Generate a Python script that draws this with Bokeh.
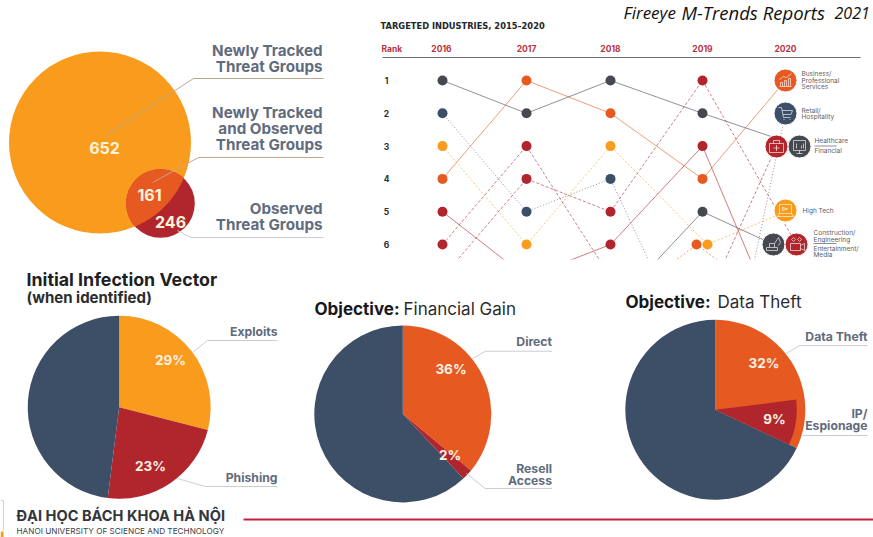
import numpy as np
from bokeh.core.properties import value
from bokeh.embed import file_html
from bokeh.models import Range1d
from bokeh.plotting import figure
from bokeh.resources import INLINE

W, H = 873, 537
AMBER, ORANGE, RED, NAVY, GRAY = "#F99B1C", "#E65A22", "#B0262C", "#3D4E67", "#45484F"
SLATE, RULE, CRIMSON = "#616B7E", "#C9CED6", "#B8323F"
FONT = "Inter"

# Threat-group overlap labels
venn_counts = ["652", "161", "246"]
venn_labels = [["Newly Tracked", "Threat Groups"],
               ["Newly Tracked", "and Observed", "Threat Groups"],
               ["Observed", "Threat Groups"]]

# Targeted industries: rank per year; NaN marks a year without a plotted rank
years = [2016, 2017, 2018, 2019, 2020]
ranks_shown = [1, 2, 3, 4, 5, 6]
N = float("nan")
financial = [1, 2, 1, 2, 3]
business = [4, 1, 2, 4, 1]
retail_early = [2, 5, 4, 10, N]
retail_late = [N, N, N, 14, 2]
high_tech = [3, 6, 3, 6, 5]
healthcare = [6, 3, 7, 8, 3]
education = [5, 7, 6, 3, 9]
entertainment = [7, 4, 5, 1, 6]
construction = [N, N, 8, 5, 6]
government = [N, N, 8, 6, 8]

# Pie shares, clockwise from twelve o'clock, in percent
vector_shares = [29, 23, 48]
financial_shares = [36, 2, 62]
theft_shares = [32, 68]
espionage_share = 9

p = figure(width=W, height=H, x_range=Range1d(0, W), y_range=Range1d(0, H),
           min_border=0, toolbar_location=None, output_backend="svg",
           x_axis_type=None, y_axis_type=None, outline_line_color=None)
p.grid.visible = False
p.extra_y_ranges = {"rank": Range1d(1 + (H - 80) / 32.8, 1 - 80 / 32.8)}


def Y(y):
    return H - np.asarray(y, dtype=float)


def label(x, y, s, size, color=SLATE, style="bold", align="left", font=FONT, alpha=1.0):
    p.text([x], [Y(y)], text=[s], text_font=value(font), text_font_size=f"{size}px",
           text_font_style=style, text_color=color, text_align=align,
           text_baseline="middle", text_alpha=alpha)


def leader(points, color=RULE, alpha=1.0, width=1.0):
    xs, ys = zip(*points)
    p.line(list(xs), Y(ys), line_color=color, line_width=width, line_alpha=alpha)


# ---- overlap diagram ----
big = (99.5, 142.0, 91.0)
small = (160.0, 203.0, 34.3)
p.circle([big[0]], [Y(big[1])], radius=big[2], fill_color=AMBER, line_color=None)
p.circle([small[0]], [Y(small[1])], radius=small[2], fill_color=RED, line_color=None)


def ring(c):
    t = np.linspace(0, 2 * np.pi, 721)
    return c[0] + c[2] * np.cos(t), c[1] + c[2] * np.sin(t)


ax, ay = ring(small)
bx, by = ring(big)
keep_a = np.hypot(ax - big[0], ay - big[1]) <= big[2]
keep_b = np.hypot(bx - small[0], by - small[1]) <= small[2]
lx = np.r_[ax[keep_a], bx[keep_b]]
ly = np.r_[ay[keep_a], by[keep_b]]
order = np.argsort(np.arctan2(ly - ly.mean(), lx - lx.mean()))
p.patch(lx[order], Y(ly[order]), fill_color=ORANGE, line_color=None)

leader([(105, 135), (193, 78), (323, 78)], color="#B9A78C")
leader([(152, 182), (198, 157), (323, 157)], color="#C4A58A")
leader([(177, 230), (190, 237), (323, 237)])
for (x, y), s in zip([(104, 147), (149, 194), (170, 221)], venn_counts):
    label(x, y, s, 16, color="#FFF3DC", align="center")
for ys, lines in zip([(50, 66), (112, 128, 144), (208, 224)], venn_labels):
    for y, s in zip(ys, lines):
        label(322, y - 0.5, s, 15.2, align="right")

# ---- industry ranking slopes ----
column_x = [442, 526, 610, 702, 785]
series = [
    (financial, GRAY, "solid", {4: 799}),
    (business, ORANGE, "solid", {}),
    (retail_early, NAVY, "1 2", {}),
    (retail_late, NAVY, "1 2", {}),
    (high_tech, AMBER, "2 2", {3: 707}),
    (healthcare, RED, "3 2", {4: 776}),
    (education, RED, "solid", {}),
    (entertainment, RED, "3 2", {4: 796}),
    (construction, GRAY, "solid", {4: 773}),
    (government, ORANGE, "2 2", {3: 696}),
]
for ranks, color, dash, nudges in series:
    xs = [nudges.get(i, x) for i, x in enumerate(column_x)]
    p.line(xs, ranks, y_range_name="rank", line_color=color, line_dash=dash,
           line_width=1.0, line_alpha=0.6)
for ranks, color, dash, nudges in series:
    xs = [nudges.get(i, x) for i, x in enumerate(column_x)]
    p.scatter(xs[:4], ranks[:4], y_range_name="rank", size=10, fill_color=color, line_color=None)

# the chart is cropped just under rank 6
p.quad(left=[370], right=[W], bottom=[0], top=[Y(259)], fill_color="white", line_color=None)

label(380, 25, "TARGETED INDUSTRIES, 2015\u20132020", 8.3, color="#23262B", style="bold", font="DejaVu Sans")
label(623, 12, "Fireeye", 17, color="#111111", style="italic", font="Open Sans")
label(681, 12, "M-Trends Reports", 18.5, color="#111111", style="italic", font="Open Sans")
label(834, 12, "2021", 16, color="#111111", style="italic", font="Open Sans")
label(381, 48, "Rank", 8.5, color=CRIMSON)
for x, yr in zip([441, 526, 610, 702, 785], years):
    label(x, 48, str(yr), 8.5, color=CRIMSON, align="center")
leader([(382, 57), (860, 57)], color="#6B6E73")
for r in ranks_shown:
    p.text([386], [r], y_range_name="rank", text=[str(r)], text_font=value(FONT), text_font_size="8.5px",
           text_font_style="bold", text_color="#2B2E33", text_align="center", text_baseline="middle")

# industry badges for the latest year, with small pictograms drawn in white
badges = [
    (785, 80, ORANGE, "bars"), (785, 113, NAVY, "cart"), (799, 146, GRAY, "screen"),
    (776, 146, RED, "case"), (785, 210, AMBER, "laptop"), (773, 244, GRAY, "crane"),
    (796, 244, RED, "camera"),
]
pictograms = {
    "bars": [[(-6, 6), (6, 6)], [(-5, 6), (-5, 2), (-3, 2), (-3, 6)], [(-1, 6), (-1, 0), (1, 0), (1, 6)],
             [(3, 6), (3, -2), (5, -2), (5, 6)], [(-6, -1), (-2, -4), (1, -3), (6, -7)]],
    "cart": [[(-7, -6), (-4, -6), (-2, 4), (5, 4)], [(-3.5, -3), (7, -3), (5.5, 1), (-2.5, 1)],
             [(-2, 6), (-1, 6)], [(4, 6), (5, 6)]],
    "screen": [[(-6, -6), (6, -6), (6, 4), (-6, 4), (-6, -6)], [(-3, 7), (3, 7)], [(0, 4), (0, 7)],
               [(-3, 2), (-3, -3)], [(2, 2), (2, -1)], [(4, 2), (4, -3)]],
    "case": [[(-7, -3), (7, -3), (7, 6), (-7, 6), (-7, -3)], [(-3, -3), (-3, -6), (3, -6), (3, -3)],
             [(-3, 1.5), (3, 1.5)], [(0, -1.5), (0, 4.5)]],
    "laptop": [[(-6, -6), (6, -6), (6, 3), (-6, 3), (-6, -6)], [(-8, 6), (8, 6)], [(-8, 6), (-6, 3)],
               [(8, 6), (6, 3)], [(-3, -3), (2, -1.5), (-3, 0), (-3, -3)]],
    "crane": [[(-7, 6), (4, 6), (4, 3), (-7, 3), (-7, 6)], [(-4, 3), (-4, -1), (1, -1), (1, 3)],
              [(1, -1), (5, -7), (7, -2)], [(7, -2), (5, 1)]],
    "camera": [[(-6, -1), (4, -1), (4, 6), (-6, 6), (-6, -1)], [(4, 1), (8, -1), (8, 6), (4, 4)],
               [(-5, -5), (-3, -7), (-1, -5), (-3, -3), (-5, -5)], [(1, -5), (3, -7), (5, -5), (3, -3), (1, -5)]],
}
for x, y, color, kind in badges:
    p.scatter([x], [Y(y)], size=23, fill_color=color, line_color="white", line_width=1)
    segs = pictograms[kind]
    p.multi_line([[x + a for a, _ in s] for s in segs], [list(Y([y + b for _, b in s])) for s in segs],
                 line_color="white", line_width=0.7, line_alpha=0.9)

tag = "#5B5E66"
for y, s in zip((73, 80, 86), ("Business/", "Professional", "Services")):
    label(801, y, s, 6.5, color=tag, style="normal")
for y, s in zip((110, 116), ("Retail/", "Hospitality")):
    label(801, y, s, 6.5, color=tag, style="normal")
label(814, 140, "Healthcare", 6.5, color=tag, style="normal")
label(814, 150, "Financial", 6.5, color=tag, style="normal")
leader([(814, 145.5), (836, 145.5)], color="#8A8D93")
label(802, 210, "High Tech", 6.5, color=tag, style="normal")
for y, s in zip((232, 239), ("Construction/", "Engineering")):
    label(813, y, s, 6.5, color=tag, style="normal")
leader([(813, 243), (836, 243)], color="#8A8D93")
for y, s in zip((248, 254), ("Entertainment/", "Media")):
    label(813, y, s, 6.5, color=tag, style="normal")


# ---- pies ----
def pie(cx, cy, r, shares, colors):
    edges = np.cumsum([0] + list(shares)) / 100 * 2 * np.pi
    p.wedge([cx] * len(shares), [Y(cy)] * len(shares), radius=r,
            start_angle=list(np.pi / 2 - edges[:-1]), end_angle=list(np.pi / 2 - edges[1:]),
            direction="clock", fill_color=colors, line_color=None)


pie(118.7, 406.7, 91.5, vector_shares, [AMBER, RED, NAVY])
pie(402.3, 413.5, 88.5, financial_shares, [ORANGE, RED, NAVY])
pie(714.8, 409.3, 90.0, theft_shares, [ORANGE, NAVY])
# espionage is an inset slice that closes against the end of the data-theft slice
inset_end = theft_shares[0] / 100 * 2 * np.pi
inset_start = (theft_shares[0] - espionage_share) / 100 * 2 * np.pi
p.wedge([714.8], [Y(409.3)], radius=81.5, start_angle=[np.pi / 2 - inset_start],
        end_angle=[np.pi / 2 - inset_end], direction="clock", fill_color=RED, line_color=None)

label(26, 279, "Initial Infection Vector", 17.8, color="#1E2024")
label(26, 297, "(when identified)", 15, color="#2A2C30")
label(314, 308, "Objective:", 17, color="#16181B")
label(403, 308, "Financial Gain", 17, color="#2A2C30", style="normal")
label(625, 301, "Objective:", 17, color="#16181B")
label(717, 301, "Data Theft", 17, color="#2A2C30", style="normal")

leader([(192, 352), (207, 340), (277, 340)])
leader([(177, 478), (205, 486), (277, 486)])
leader([(472, 358), (485, 350.7), (551.5, 350.7)])
leader([(466, 473), (484.6, 488), (551.5, 488)])
leader([(786, 353), (799, 345), (867, 345)])
leader([(802, 435), (867, 435)])

for x, y, s in [(170, 359, f"{vector_shares[0]}%"), (150, 465, f"{vector_shares[1]}%"),
                (450.5, 368, f"{financial_shares[0]}%"), (449.5, 454, f"{financial_shares[1]}%"),
                (763.5, 362.7, f"{theft_shares[0]}%"), (774, 418, f"{espionage_share}%")]:
    label(x, y, s, 13.5, color="#FBEFE2", align="center")
for x, y, s in [(277, 331, "Exploits"), (277, 477, "Phishing"), (551.5, 341, "Direct"),
                (551.5, 468, "Resell"), (551.5, 480, "Access"), (867, 336, "Data Theft"),
                (867, 413, "IP/"), (867, 425, "Espionage")]:
    label(x, y, s, 12.2, align="right")

# ---- footer ----
# sliver of the university crest at the page edge
leader([(0, 500), (3, 500), (3, 530)], color="#F2C4C4")
p.quad(left=[0], right=[3], bottom=[0], top=[Y(531)], fill_color=AMBER, line_color=None)
label(16, 515, "\u0110\u1ea0I H\u1eccC B\u00c1CH KHOA H\u00c0 N\u1ed8I", 14.6, color="#33363B")
label(16, 530, "HANOI UNIVERSITY OF SCIENCE AND TECHNOLOGY", 8.2, color="#3D4045", style="normal")
leader([(243, 519), (W, 519)], color="#C8203A", width=2)

open("out.html", "w").write(file_html(p, INLINE))
